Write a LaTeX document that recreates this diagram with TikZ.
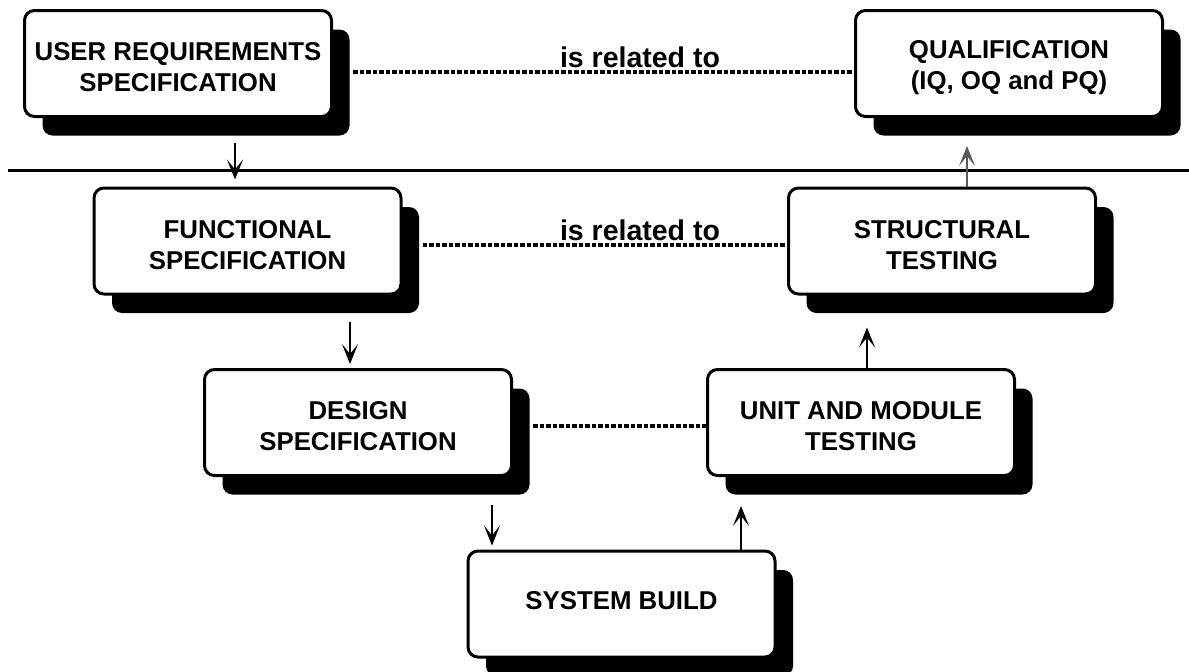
\documentclass[tikz,border=0pt]{standalone}
\usepackage{fontspec}
\setmainfont{Liberation Sans}
\usetikzlibrary{shadows,arrows.meta}
% strut that pushes a two-line label slightly down, and one that lifts a single line
\newcommand{\firstln}{\rule{0pt}{26pt}}
\newcommand{\liftln}{\rule[-8pt]{0pt}{8pt}}
\begin{document}
\begin{tikzpicture}[x=1pt,y=-1pt,
  box/.style={draw, line width=3pt, rounded corners=10pt, fill=white,
    minimum width=307pt, minimum height=106pt, inner sep=0pt, align=center,
    font=\fontsize{25.8}{31}\selectfont\bfseries,
    drop shadow={shadow xshift=18pt, shadow yshift=-19pt, opacity=1, fill=black}},
  rel/.style={line width=3.5pt, dash pattern=on 4.5pt off 2pt},
  flow/.style={line width=1.4pt, -{Stealth[length=20pt,width=16pt,inset=10pt]}},
  lbl/.style={font=\fontsize{28.5}{34}\selectfont\bfseries, anchor=base, inner sep=0pt}]

\useasboundingbox (0,0) rectangle (1189,672);

% left branch (specifications) and right branch (testing)
\node[box] (urs)    at (178,63.5)  {\firstln USER REQUIREMENTS\\SPECIFICATION};
\node[box] (qual)   at (1009,63.5) {\firstln QUALIFICATION\\(IQ, OQ and PQ)};
\node[box] (func)   at (247.5,241) {\firstln FUNCTIONAL\\SPECIFICATION};
\node[box] (struct) at (942,241)   {\firstln STRUCTURAL\\TESTING};
\node[box] (design) at (358,422.5) {\firstln DESIGN\\SPECIFICATION};
\node[box] (unit)   at (861,422.5) {\firstln UNIT AND MODULE\\TESTING};
\node[box] (sys)    at (621.5,604) {SYSTEM BUILD\liftln};

% separator between user level and supplier level
\coordinate (sepL) at (8,170);
\coordinate (sepR) at (1189,170);
\draw[line width=3pt] (sepL) -- (sepR);

% columns of the flow arrows
\coordinate (c1) at (235,0);
\coordinate (c2) at (350,0);
\coordinate (c3) at (492,0);
\coordinate (c4) at (741,0);
\coordinate (c5) at (867,0);
\coordinate (c6) at (967,0);

\draw[flow, shorten <=24.5pt, shorten >=7pt]   (urs.south -| c1)    -- (func.north -| c1);
\draw[flow, shorten <=26pt, shorten >=4pt]     (func.south -| c2)   -- (design.north -| c2);
\draw[flow, shorten <=27.5pt, shorten >=4pt]   (design.south -| c3) -- (sys.north -| c3);
\draw[flow, shorten >=29pt]                    (sys.north -| c4)    -- (unit.south -| c4);
\draw[flow, shorten >=32pt]                    (unit.north -| c5)   -- (struct.south -| c5);
\draw[flow, black!65, shorten >=28pt]          (struct.north -| c6) -- (qual.south -| c6);

% "is related to" links
\coordinate (r1) at (0,72);
\coordinate (r2) at (0,245);
\coordinate (r3) at (0,426);
\draw[rel, shorten <=20pt] (urs.east |- r1)    -- (qual.west |- r1);
\draw[rel, shorten <=20pt] (func.east |- r2)   -- (struct.west |- r2);
\draw[rel, shorten <=20pt] (design.east |- r3) -- (unit.west |- r3);

\node[lbl] (rel1) at (640,67)  {is related to};
\node[lbl] (rel2) at (640,240) {is related to};
\end{tikzpicture}
\end{document}
